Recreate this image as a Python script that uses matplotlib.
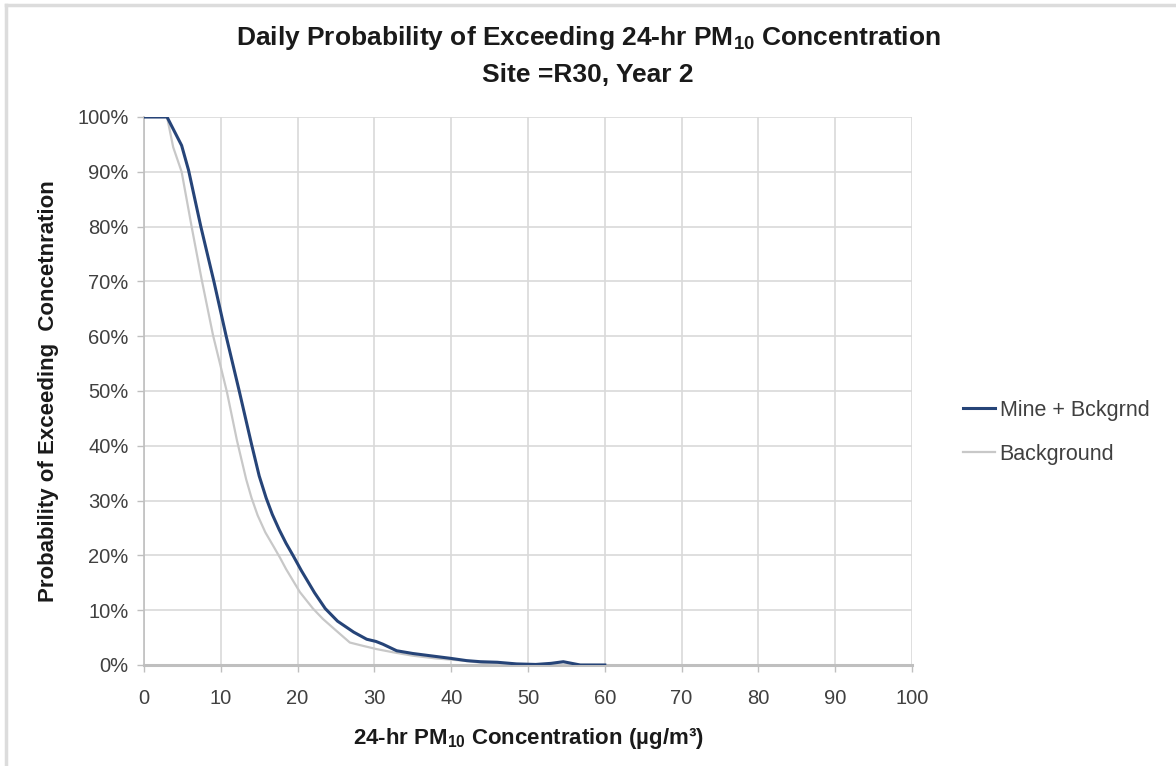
import matplotlib
matplotlib.use("Agg")
import matplotlib.pyplot as plt
from matplotlib.lines import Line2D
from matplotlib.ticker import MultipleLocator, FuncFormatter

FONT = ["Liberation Sans", "DejaVu Sans"]
plt.rcParams.update({
    "font.family": FONT,
    "mathtext.fontset": "custom",
    "mathtext.rm": "Liberation Sans",
    "mathtext.bf": "Liberation Sans:bold",
})

# Exceedance curves (concentration in ug/m3, probability in %)
mine_x = [0, 3.0, 4.9, 5.8, 7.4, 9.1, 10.7, 12.4, 14.0, 15.0, 15.9, 16.7, 17.6, 18.5,
          19.4, 20.5, 22.2, 23.6, 25.2, 27.3, 29.0, 30.2, 31.1, 32.9, 35, 37.2, 40,
          42.0, 43.8, 46, 48.5, 51, 53, 54.6, 56.8, 60]
mine_y = [100, 100, 94.8, 90.3, 80, 70, 60, 50, 40.3, 34.5, 30.5, 27.5, 24.7, 22.2,
          20, 17.2, 13.2, 10.3, 8, 6, 4.7, 4.3, 3.8, 2.6, 2.1, 1.7, 1.2,
          0.8, 0.6, 0.5, 0.2, 0.1, 0.3, 0.6, 0, 0]

bkg_x = [0, 3.0, 3.8, 4.9, 6.2, 7.5, 9.0, 10.8, 12.1, 13.3, 14.0, 14.8, 15.8, 16.8,
         17.7, 18.5, 20.3, 22.0, 23.3, 25.0, 26.8, 28.5, 30.3, 32.5, 35, 38, 41.5,
         44, 47, 60]
bkg_y = [100, 100, 94.5, 90, 80, 70.4, 60.1, 49.8, 41, 33.9, 30.5, 27.3, 24.2, 21.8,
         19.6, 17.5, 13.3, 10.3, 8.4, 6.3, 4.1, 3.5, 2.9, 2.3, 1.7, 1.2, 0.8,
         0.4, 0.1, 0]

labels = ["Mine + Bckgrnd", "Background"]

W, H = 1176, 766
fig = plt.figure(figsize=(W / 100, H / 100), dpi=100)
ax = fig.add_axes([144 / W, 1 - 665 / H, (912 - 144) / W, (665 - 117) / H])

ax.plot(bkg_x, bkg_y, color="#c8c8c8", lw=1.6, label=labels[1], zorder=3)
ax.plot(mine_x, mine_y, color="#264478", lw=2.2, label=labels[0], zorder=4)

ax.set_xlim(0, 100)
ax.set_ylim(0, 100)
ax.xaxis.set_major_locator(MultipleLocator(10))
ax.yaxis.set_major_locator(MultipleLocator(10))
ax.yaxis.set_major_formatter(FuncFormatter(lambda v, p: f"{v:.0f}%"))
ax.grid(True, color="#d9d9d9", lw=1.2)
ax.set_axisbelow(True)

for s in ["top", "right"]:
    ax.spines[s].set_visible(False)
ax.spines["left"].set_color("#bfbfbf")
ax.spines["left"].set_linewidth(1.2)
ax.spines["bottom"].set_color("#bfbfbf")
ax.spines["bottom"].set_linewidth(2.2)
ax.tick_params(axis="both", direction="out", length=5, width=1, color="#bfbfbf",
               labelsize=14.5, labelcolor="#404040")
ax.tick_params(axis="y", pad=6)
ax.tick_params(axis="x", pad=12)

ax.set_xlabel("24-hr PM$_{\\mathbf{10}}$ Concentration (\u00b5g/m\u00b3)", fontsize=16,
              fontweight="bold", color="#1a1a1a", labelpad=13)
ax.set_ylabel("Probability of Exceeding  Concetnration", fontsize=16,
              fontweight="bold", color="#1a1a1a", labelpad=13)

fig.text(0.5, 1 - 38 / H, "Daily Probability of Exceeding 24-hr PM$_{\\mathbf{10}}$ Concentration",
         ha="center", va="center", fontsize=19, fontweight="bold", color="#1a1a1a")
fig.text(0.5, 1 - 75 / H, "Site =R30, Year 2",
         ha="center", va="center", fontsize=19, fontweight="bold", color="#1a1a1a")

handles, labs = ax.get_legend_handles_labels()
order = [labs.index(l) for l in labels]
fig.legend([handles[i] for i in order], [labs[i] for i in order],
           loc="upper left", bbox_to_anchor=(963 / W, 1 - 400 / H), frameon=False,
           fontsize=15.5, handlelength=1.5, handletextpad=0.2, labelspacing=1.05,
           borderpad=0, borderaxespad=0, labelcolor="#404040")

# light frame around the picture (top and left edges)
fig.add_artist(Line2D([6 / W, 1], [1 - 5 / H, 1 - 5 / H], transform=fig.transFigure,
                      color="#dcdcdc", lw=2.5))
fig.add_artist(Line2D([6 / W, 6 / W], [0, 1 - 5 / H], transform=fig.transFigure,
                      color="#dcdcdc", lw=2.5))

fig.savefig("out.png", dpi=100, facecolor="white")
